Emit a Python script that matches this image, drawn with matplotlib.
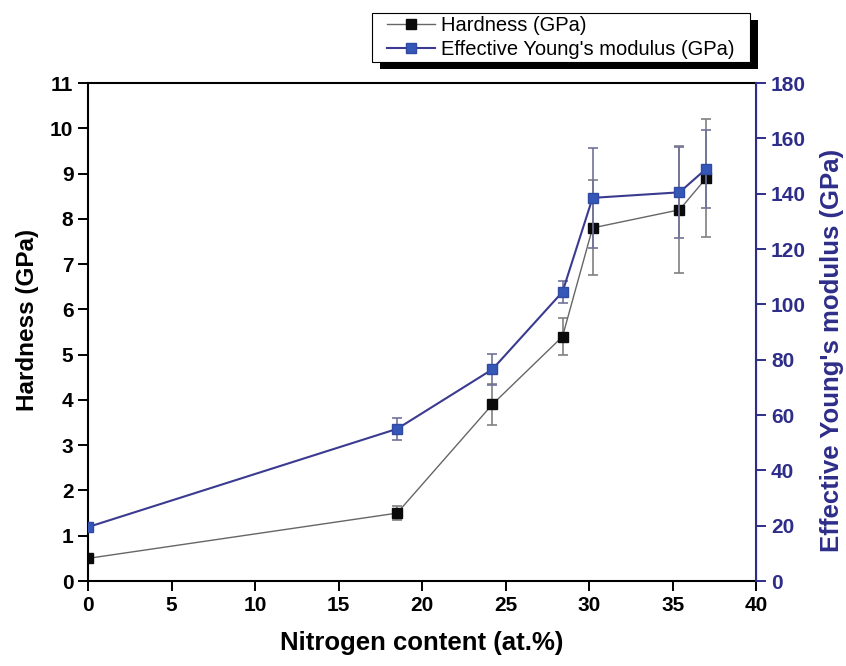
import matplotlib
matplotlib.use('Agg')
import matplotlib.pyplot as plt
from matplotlib.patches import Rectangle
from matplotlib.lines import Line2D

plt.rcParams['font.family'] = ['Liberation Sans', 'DejaVu Sans']

# data
nitrogen = [0.0, 18.5, 24.2, 28.4, 30.2, 35.4, 37.0]
hardness = [0.5, 1.5, 3.9, 5.4, 7.8, 8.2, 8.9]
hardness_err = [0.05, 0.15, 0.45, 0.4, 1.05, 1.4, 1.3]
modulus = [19.5, 55.0, 76.5, 104.5, 138.5, 140.5, 149.0]
modulus_err = [1.0, 4.0, 5.5, 4.0, 18.0, 16.5, 14.0]

navy = '#2e2e8a'
h_style = dict(color='#666666', lw=1.0, marker='s', ms=7, mfc='#0a0a0a', mec='#0a0a0a')
m_style = dict(color='#3a3a90', lw=1.5, marker='s', ms=7, mfc='#3557b7', mec='#2f4aa0')

fig = plt.figure(figsize=(8.46, 6.66), dpi=100)
ax = fig.add_axes([0.104, 0.1276, 0.790, 0.7477])
ax2 = ax.twinx()

# hardness (left axis)
ax.errorbar(nitrogen, hardness, yerr=hardness_err, ecolor='#808080',
            elinewidth=1.2, capsize=3.5, capthick=1.2, **h_style)
# modulus (right axis)
ax2.errorbar(nitrogen, modulus, yerr=modulus_err, ecolor='#72729a',
             elinewidth=1.2, capsize=3.5, capthick=1.2, **m_style)

ax.set_xlim(0, 40)
ax.set_ylim(0, 11)
ax2.set_ylim(0, 180)
ax.set_xticks(range(0, 41, 5))
ax.set_yticks(range(0, 12))
ax2.set_yticks(range(0, 181, 20))

for s in ['left', 'bottom', 'top']:
    ax.spines[s].set_linewidth(1.5)
ax2.spines['right'].set_color(navy)
ax2.spines['right'].set_linewidth(1.5)
for s in ['left', 'bottom', 'top']:
    ax2.spines[s].set_visible(False)

ax.tick_params(axis='both', direction='out', length=7, width=1.4,
               labelsize=15, top=False, right=False)
ax2.tick_params(axis='y', direction='out', length=7, width=1.4,
                labelsize=15, colors=navy)
for lbl in ax.get_xticklabels() + ax.get_yticklabels() + ax2.get_yticklabels():
    lbl.set_fontweight('bold')

ax.set_xlabel('Nitrogen content (at.%)', fontsize=18.5, fontweight='bold', labelpad=12)
ax.set_ylabel('Hardness (GPa)', fontsize=17.5, fontweight='bold')
ax.yaxis.set_label_coords(-0.074, 0.524)
ax2.set_ylabel("Effective Young's modulus (GPa)", fontsize=18.5, fontweight='bold',
               color=navy)
ax2.yaxis.set_label_coords(1.095, 0.464)

handles = [Line2D([], [], **h_style), Line2D([], [], **m_style)]
labels = ['Hardness (GPa)', "Effective Young's modulus (GPa)"]
leg = fig.legend(handles, labels, loc='upper right',
                 bbox_to_anchor=(738 / 846, 1 - 13 / 666),
                 fontsize=14.5, frameon=False, borderpad=0.15,
                 labelspacing=0.25, handlelength=2.4, handletextpad=0.3,
                 borderaxespad=0)

# box with black drop shadow around the legend (wider side padding)
fig.canvas.draw()
bb = leg.get_window_extent().transformed(fig.transFigure.inverted())
padx = 12 / 846
box = (bb.x0 - padx, bb.y0, bb.width + 2 * padx, bb.height)
shadow = Rectangle((box[0] + 8 / 846, box[1] - 7 / 666), box[2], box[3],
                   transform=fig.transFigure, facecolor='black', edgecolor='none',
                   zorder=leg.get_zorder() - 2)
frame = Rectangle(box[:2], box[2], box[3], transform=fig.transFigure,
                  facecolor='white', edgecolor='black', lw=0.8,
                  zorder=leg.get_zorder() - 1)
fig.add_artist(shadow)
fig.add_artist(frame)

fig.savefig('out.png', dpi=100)
